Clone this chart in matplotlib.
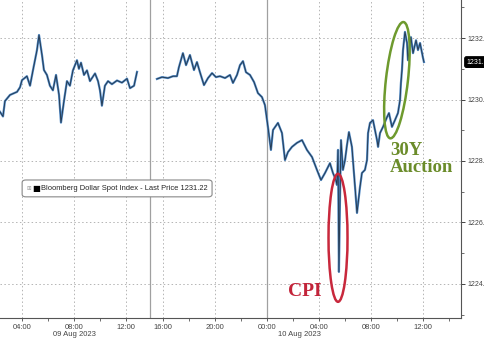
import matplotlib
matplotlib.use("Agg")
import matplotlib.pyplot as plt
from matplotlib.patches import Ellipse, FancyBboxPatch
from matplotlib.transforms import ScaledTranslation, blended_transform_factory
from matplotlib.ticker import FixedLocator, MultipleLocator, FormatStrFormatter

# hours since 09 Aug 2023 00:00 (chart local time), Bloomberg Dollar Spot Index
day1_hours = [2.31, 2.54, 2.69, 3.08, 3.62, 3.85, 4.00, 4.38, 4.62, 4.85, 5.15, 5.31,
              5.54, 5.69, 5.92, 6.15, 6.38, 6.62, 6.85, 7.00, 7.23, 7.46, 7.69, 7.92,
              8.23, 8.38, 8.54, 8.77, 9.00, 9.23, 9.62, 9.85, 10.00, 10.15, 10.38, 10.62,
              10.92, 11.31, 11.69, 12.08, 12.31, 12.62, 12.85]
day1_values = [1229.60, 1229.45, 1229.95, 1230.15, 1230.25, 1230.40, 1230.63, 1230.76,
               1230.45, 1230.96, 1231.60, 1232.10, 1231.45, 1230.96, 1230.80, 1230.45,
               1230.30, 1230.80, 1230.15, 1229.25, 1229.95, 1230.60, 1230.45, 1230.95,
               1231.28, 1231.00, 1231.20, 1230.80, 1230.95, 1230.60, 1230.85, 1230.60,
               1230.30, 1229.80, 1230.45, 1230.60, 1230.50, 1230.62, 1230.55, 1230.68,
               1230.37, 1230.45, 1230.90]

day2_hours = [15.53, 15.92, 16.38, 16.77, 17.07, 17.22, 17.53, 17.77, 18.07, 18.38, 18.61,
              18.84, 19.15, 19.46, 19.77, 20.07, 20.38, 20.77, 21.15, 21.38, 21.69, 21.92,
              22.15, 22.38, 22.69, 23.00, 23.30, 23.61, 23.84, 24.07, 24.30, 24.46, 24.84,
              25.15, 25.38, 25.61, 25.92, 26.30, 26.69, 27.07, 27.46, 27.84, 28.15, 28.46,
              28.84, 29.07, 29.30, 29.38, 29.46, 29.53, 29.61, 29.69, 29.84, 30.00, 30.15,
              30.30, 30.53, 30.77, 30.92, 31.15, 31.30, 31.53, 31.69, 31.77, 31.92, 32.15,
              32.46, 32.54, 32.69, 32.92, 33.23, 33.38, 33.61, 33.84, 34.07, 34.23, 34.30,
              34.38, 34.46, 34.61, 34.77, 34.84, 35.07, 35.23, 35.46, 35.61, 35.77, 36.00,
              36.07]
day2_values = [1230.67, 1230.73, 1230.70, 1230.76, 1230.76, 1231.05, 1231.51, 1231.12,
               1231.45, 1230.96, 1231.22, 1230.89, 1230.47, 1230.70, 1230.86, 1230.73,
               1230.76, 1230.70, 1230.80, 1230.54, 1230.80, 1231.12, 1231.25, 1230.89,
               1230.80, 1230.57, 1230.21, 1230.08, 1229.82, 1229.11, 1228.36, 1229.01,
               1229.24, 1228.91, 1228.03, 1228.29, 1228.46, 1228.59, 1228.68, 1228.36,
               1228.13, 1227.71, 1227.38, 1227.61, 1227.93, 1227.61, 1227.38, 1227.22,
               1228.36, 1224.39, 1226.73, 1228.68, 1227.71, 1228.03, 1228.52, 1228.94,
               1228.46, 1227.15, 1226.31, 1227.15, 1227.61, 1227.71, 1228.03, 1228.91,
               1229.24, 1229.33, 1228.68, 1228.46, 1228.91, 1229.11, 1229.43, 1229.56,
               1229.11, 1229.33, 1229.56, 1229.98, 1230.54, 1230.96, 1231.61, 1232.20,
               1231.84, 1231.28, 1232.03, 1231.51, 1231.93, 1231.61, 1231.84, 1231.35,
               1231.22]

last_price = 1231.22
tick_hours = [4, 8, 12, 16, 20, 24, 28, 32, 36]
tick_labels = ["04:00", "08:00", "12:00", "16:00", "20:00", "00:00", "04:00", "08:00", "12:00"]
minor_hours = [6, 10, 18, 22, 26, 30, 34, 38]
y_ticks = [1224, 1226, 1228, 1230, 1232]

# Bloomberg squeezes out the dead hours after the first session
BREAK = 13.85
GAP = 1.15

def to_pos(h):
    return h if h < BREAK else h - GAP

plt.rcParams["font.family"] = ["Liberation Sans", "DejaVu Sans"]

fig = plt.figure(figsize=(4.85, 3.40), dpi=100)
ax = fig.add_axes([0, 22 / 340, 461 / 485, 318 / 340])

ax.set_xlim(2.31, 37.77)
ax.set_ylim(1222.89, 1233.24)

grid_kw = dict(color="#b4b4b4", lw=0.7, ls=(0, (1.5, 2.5)), zorder=0)
for h in tick_hours:
    if h != 24:
        ax.axvline(to_pos(h), **grid_kw)
for v in y_ticks:
    ax.axhline(v, **grid_kw)
ax.axvline(BREAK, color="#a0a0a0", lw=0.9, zorder=1)
ax.axvline(to_pos(24), color="#a0a0a0", lw=0.9, zorder=1)

for hrs, vals in [(day1_hours, day1_values), (day2_hours, day2_values)]:
    xs = [to_pos(h) for h in hrs]
    ax.plot(xs, vals, color="#4f88c4", lw=1.6, zorder=3)
    ax.plot(xs, vals, color="#17202a", lw=0.6, alpha=0.8, zorder=4)

# axes styling
for s in ["left", "top"]:
    ax.spines[s].set_visible(False)
ax.spines["bottom"].set_color("#555555")
ax.spines["right"].set_color("#555555")
ax.spines["bottom"].set_linewidth(0.8)
ax.spines["right"].set_linewidth(0.8)

ax.yaxis.tick_right()
ax.set_yticks(y_ticks)
ax.yaxis.set_major_formatter(FormatStrFormatter("%.2f"))
ax.yaxis.set_minor_locator(MultipleLocator(1))
ax.tick_params(axis="y", which="major", length=3, width=0.7, colors="#444444",
               labelsize=5, pad=1.5)
ax.tick_params(axis="y", which="minor", length=2, width=0.6, colors="#555555")

ax.set_xticks([to_pos(h) for h in tick_hours])
ax.set_xticklabels(tick_labels)
ax.xaxis.set_minor_locator(FixedLocator([to_pos(h) for h in minor_hours]))
ax.tick_params(axis="x", which="major", length=2, width=0.6, colors="#444444",
               labelsize=5.5, pad=2)
ax.tick_params(axis="x", which="minor", length=2, width=0.6, colors="#555555")

tr = blended_transform_factory(ax.transData, ax.transAxes)
ax.text(to_pos(8), -0.052, "09 Aug 2023", transform=tr, ha="center", va="center",
        fontsize=5.5, color="#444444", clip_on=False)
ax.text(to_pos(26.5), -0.052, "10 Aug 2023", transform=tr, ha="center", va="center",
        fontsize=5.5, color="#444444", clip_on=False)

# legend box
box = FancyBboxPatch((0.048, 0.381), 0.412, 0.053, transform=ax.transAxes,
                     boxstyle="round,pad=0,rounding_size=0.008",
                     fc="white", ec="#888888", lw=0.8, zorder=5)
ax.add_patch(box)
ax.text(0.057, 0.408, "\u229e", transform=ax.transAxes, ha="left", va="center",
        fontsize=4, color="#999999", family=["DejaVu Sans"], zorder=6)
ax.text(0.069, 0.408, "\u25a0", transform=ax.transAxes, ha="left", va="center",
        fontsize=6, color="black", family=["DejaVu Sans"], zorder=6)
ax.text(0.088, 0.407, "Bloomberg Dollar Spot Index - Last Price 1231.22",
        transform=ax.transAxes, ha="left", va="center", fontsize=5.4,
        color="#222222", zorder=6)

# last price tag
ax.annotate(f"{last_price:.2f}", xy=(1, last_price), xycoords=("axes fraction", "data"),
            xytext=(4, 0), textcoords="offset points", ha="left", va="center",
            fontsize=5, color="white", annotation_clip=False,
            bbox=dict(boxstyle="round,pad=0.25", fc="black", ec="black"))

# annotations
def ellipse_at(x, y, w, h, angle, color):
    trans = fig.dpi_scale_trans + ScaledTranslation(x, y, ax.transData)
    ax.add_patch(Ellipse((0, 0), w, h, angle=angle, transform=trans,
                         fill=False, ec=color, lw=1.8, zorder=7))

ellipse_at(to_pos(29.46), 1225.50, 0.19, 1.28, 0, "#c8283c")
ellipse_at(to_pos(33.99), 1230.63, 0.22, 1.17, -6.5, "#6e9a2e")

ax.text(to_pos(26.92), 1223.76, "CPI", ha="center", va="center", fontsize=14,
        fontweight="bold", color="#c3243a", family=["Liberation Serif", "DejaVu Serif"],
        zorder=8)
ax.text(to_pos(33.46), 1228.07, "30Y\nAuction", ha="left", va="center", fontsize=13.5,
        fontweight="bold", color="#6b8c2a", family=["Liberation Serif", "DejaVu Serif"],
        linespacing=1.0, zorder=8)

fig.savefig("out.png", dpi=100)
